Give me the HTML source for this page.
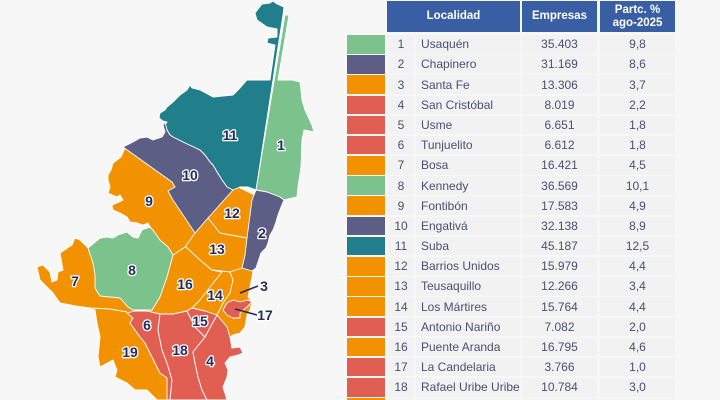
<!DOCTYPE html>
<html><head><meta charset="utf-8">
<style>
html,body{margin:0;padding:0;width:720px;height:400px;overflow:hidden;background:#f7f7f7;}
#wrap{width:720px;height:400px;background:#f7f7f7;position:relative;overflow:hidden;font-family:"Liberation Sans",sans-serif;}
.h{position:absolute;top:1px;height:31px;background:#3a5ea3;color:#fff;font-weight:bold;font-size:11.5px;display:flex;align-items:center;justify-content:center;text-align:center;line-height:13px;}
.row{position:absolute;left:0;width:720px;height:18.5px;}
.sw{position:absolute;left:347px;width:38px;height:100%;}
.c{position:absolute;height:100%;background:#f2f2f3;color:#4b4e70;font-size:12px;display:flex;align-items:center;}
.n{left:388px;width:26px;justify-content:center;}
.l{left:416px;width:104px;padding-left:5px;box-sizing:border-box;}
.e{left:522px;width:75px;justify-content:center;}
.p{left:600px;width:75px;justify-content:center;}
svg{position:absolute;left:0;top:0;}
.lb{font-family:"Liberation Sans",sans-serif;font-weight:bold;font-size:14px;fill:#262b5e;stroke:#fff;stroke-width:2.6px;paint-order:stroke;stroke-linejoin:round;text-anchor:middle;dominant-baseline:central;}
</style></head><body>
<div id="wrap">
<svg width="340" height="400" viewBox="0 0 340 400">
<g stroke="#fff" stroke-width="0.9" stroke-linejoin="round">
<polygon fill="#f39200" points="125,148 172,182 200,160 240,188 265,200 255,240 250,265 253,272 250,287 248,297 252,302 250,310 247,315 245,327 240,333 233,335 225,340 215,400 157,400 147,390 135,390 127,383 115,377 117,370 113,360 100,367 98,357 100,337 97,323 95,310 90,309 75,306 60,303 53,293 47,287 40,280 37,267 43,265 50,272 52,282 57,280 58,272 63,270 60,253 72,245 75,238 80,240 88,248 110,270 142,232 142,230 150,227 148,223 143,225 137,223 130,222 127,217 120,213 113,210 112,205 117,203 123,200 120,195 117,197 108,193 110,187 108,180 108,175 111,170 113,163 117,160 121,157"/>
<polygon fill="#217f8c" points="262,4 270,3 273,1 277,4 284,7 283,15 256,190 248,187 240,187 233,190 227,187 222,180 217,172 213,165 210,162 205,155 200,150 185,143 173,137 170,135 167,130 165,125 167,122 163,121 159,118 160,113 165,110 167,107 173,102 180,95 187,90 190,85 192,88 200,90 213,97 233,95 240,88 247,80 270,80 275,45 267,43 268,38 277,37 277,29 267,27 257,20 255,13"/>
<polygon fill="#7bc28c" points="285,15 289,15 278,80 292,80 300,82 302,100 305,110 312,125 314,132 304,130 302,140 301,167 298,187 297,197 284,200 280,197 267,192 256,190"/>
<polygon fill="#5d5e86" points="123,147 133,142 140,138 147,137 153,140 162,137 165,132 163,125 165,122 167,130 170,135 173,137 185,143 200,150 205,155 210,162 213,165 217,172 222,180 227,187 233,190 208,218 195,233 173,200 168,191 175,187 172,182"/>
<polygon fill="#5d5e86" points="256,190 267,192 280,197 284,200 281,207 278,215 276,222 273,230 270,235 268,243 266,248 261,253 258,262 256,268 252,271 242,268 245,255 247,238 250,215 252,200"/>
<polygon fill="#7bc28c" points="88,248 100,238 107,237 113,238 118,235 127,232 133,237 138,238 142,230 150,227 153,230 160,240 168,247 173,255 167,277 160,297 152,310 133,310 128,307 120,298 110,297 100,296 95,288 95,275 93,263"/>
<polygon fill="#e05f52" points="127,313 135,311 147,311 160,314 158,330 162,350 167,363 170,373 172,380 170,400 167,400 167,378 160,373 157,367 150,353 145,343 140,337 135,330 130,323 133,318"/>
<polygon fill="#e05f52" points="160,314 173,314 187,311 190,317 195,327 205,337 193,352 195,363 198,377 202,390 207,400 170,400 172,380 170,373 167,363 162,350 158,330"/>
<polygon fill="#e05f52" points="187,311 192,308 205,311 217,315 205,337 195,327 190,317"/>
<polygon fill="#e05f52" points="217,315 227,327 230,337 232,348 240,347 243,353 238,355 230,357 225,363 228,370 227,377 223,387 227,400 207,400 202,390 198,377 195,363 193,352 205,337"/>
<polygon fill="#e05f52" points="227,303 233,300 240,302 248,300 252,302 247,307 240,313 240,318 233,318 227,315 223,310"/>
</g>
<g fill="none" stroke="#fff" stroke-width="0.9" stroke-linejoin="round">
<polyline points="173,255 185,247 195,233"/>
<polyline points="208,218 220,233 247,238"/>
<polyline points="186,247 200,260 212,270 222,272"/>
<polyline points="212,270 230,272 242,268"/>
<polyline points="222,272 210,287 200,300 192,308"/>
<polyline points="230,272 233,280 230,293 223,303 217,315"/>
<polyline points="60,303 75,306 90,308 110,309 127,312"/>
</g>
<g stroke="#262b5e" stroke-width="1.6">
<line x1="240" y1="293" x2="258" y2="286"/>
<line x1="235" y1="309" x2="257" y2="315"/>
</g>
<text class="lb" x="230" y="135">11</text>
<text class="lb" x="281" y="145">1</text>
<text class="lb" x="190" y="175">10</text>
<text class="lb" x="149" y="201">9</text>
<text class="lb" x="232" y="213">12</text>
<text class="lb" x="262" y="233">2</text>
<text class="lb" x="217" y="249">13</text>
<text class="lb" x="132" y="270">8</text>
<text class="lb" x="185" y="284">16</text>
<text class="lb" x="75" y="281">7</text>
<text class="lb" x="264" y="286">3</text>
<text class="lb" x="215" y="295">14</text>
<text class="lb" x="265" y="315">17</text>
<text class="lb" x="147" y="325">6</text>
<text class="lb" x="200" y="321">15</text>
<text class="lb" x="180" y="350">18</text>
<text class="lb" x="130" y="352">19</text>
<text class="lb" x="210" y="361">4</text>
</svg>

<div class="h" style="left:387px;width:133px;">Localidad</div>
<div class="h" style="left:522px;width:75px;">Empresas</div>
<div class="h" style="left:600px;width:75px;">Partc. %<br>ago-2025</div>

<div class="row" style="top:35px"><div class="sw" style="background:#7bc28c"></div><div class="c n">1</div><div class="c l">Usaquén</div><div class="c e">35.403</div><div class="c p">9,8</div></div>
<div class="row" style="top:55.2px"><div class="sw" style="background:#5d5e86"></div><div class="c n">2</div><div class="c l">Chapinero</div><div class="c e">31.169</div><div class="c p">8,6</div></div>
<div class="row" style="top:75.4px"><div class="sw" style="background:#f39200"></div><div class="c n">3</div><div class="c l">Santa Fe</div><div class="c e">13.306</div><div class="c p">3,7</div></div>
<div class="row" style="top:95.5px"><div class="sw" style="background:#e05f52"></div><div class="c n">4</div><div class="c l">San Cristóbal</div><div class="c e">8.019</div><div class="c p">2,2</div></div>
<div class="row" style="top:115.7px"><div class="sw" style="background:#e05f52"></div><div class="c n">5</div><div class="c l">Usme</div><div class="c e">6.651</div><div class="c p">1,8</div></div>
<div class="row" style="top:135.9px"><div class="sw" style="background:#e05f52"></div><div class="c n">6</div><div class="c l">Tunjuelito</div><div class="c e">6.612</div><div class="c p">1,8</div></div>
<div class="row" style="top:156.1px"><div class="sw" style="background:#f39200"></div><div class="c n">7</div><div class="c l">Bosa</div><div class="c e">16.421</div><div class="c p">4,5</div></div>
<div class="row" style="top:176.3px"><div class="sw" style="background:#7bc28c"></div><div class="c n">8</div><div class="c l">Kennedy</div><div class="c e">36.569</div><div class="c p">10,1</div></div>
<div class="row" style="top:196.4px"><div class="sw" style="background:#f39200"></div><div class="c n">9</div><div class="c l">Fontibón</div><div class="c e">17.583</div><div class="c p">4,9</div></div>
<div class="row" style="top:216.6px"><div class="sw" style="background:#5d5e86"></div><div class="c n">10</div><div class="c l">Engativá</div><div class="c e">32.138</div><div class="c p">8,9</div></div>
<div class="row" style="top:236.8px"><div class="sw" style="background:#217f8c"></div><div class="c n">11</div><div class="c l">Suba</div><div class="c e">45.187</div><div class="c p">12,5</div></div>
<div class="row" style="top:257px"><div class="sw" style="background:#f39200"></div><div class="c n">12</div><div class="c l">Barrios Unidos</div><div class="c e">15.979</div><div class="c p">4,4</div></div>
<div class="row" style="top:277.2px"><div class="sw" style="background:#f39200"></div><div class="c n">13</div><div class="c l">Teusaquillo</div><div class="c e">12.266</div><div class="c p">3,4</div></div>
<div class="row" style="top:297.3px"><div class="sw" style="background:#f39200"></div><div class="c n">14</div><div class="c l">Los Mártires</div><div class="c e">15.764</div><div class="c p">4,4</div></div>
<div class="row" style="top:317.5px"><div class="sw" style="background:#e05f52"></div><div class="c n">15</div><div class="c l">Antonio Nariño</div><div class="c e">7.082</div><div class="c p">2,0</div></div>
<div class="row" style="top:337.7px"><div class="sw" style="background:#f39200"></div><div class="c n">16</div><div class="c l">Puente Aranda</div><div class="c e">16.795</div><div class="c p">4,6</div></div>
<div class="row" style="top:357.9px"><div class="sw" style="background:#e05f52"></div><div class="c n">17</div><div class="c l">La Candelaria</div><div class="c e">3.766</div><div class="c p">1,0</div></div>
<div class="row" style="top:378.1px"><div class="sw" style="background:#e05f52"></div><div class="c n">18</div><div class="c l">Rafael Uribe Uribe</div><div class="c e">10.784</div><div class="c p">3,0</div></div>
<div class="row" style="top:398.2px"><div class="sw" style="background:#f39200"></div><div class="c n">19</div><div class="c l">Ciudad Bolívar</div><div class="c e"></div><div class="c p"></div></div>
</div>
</body></html>
